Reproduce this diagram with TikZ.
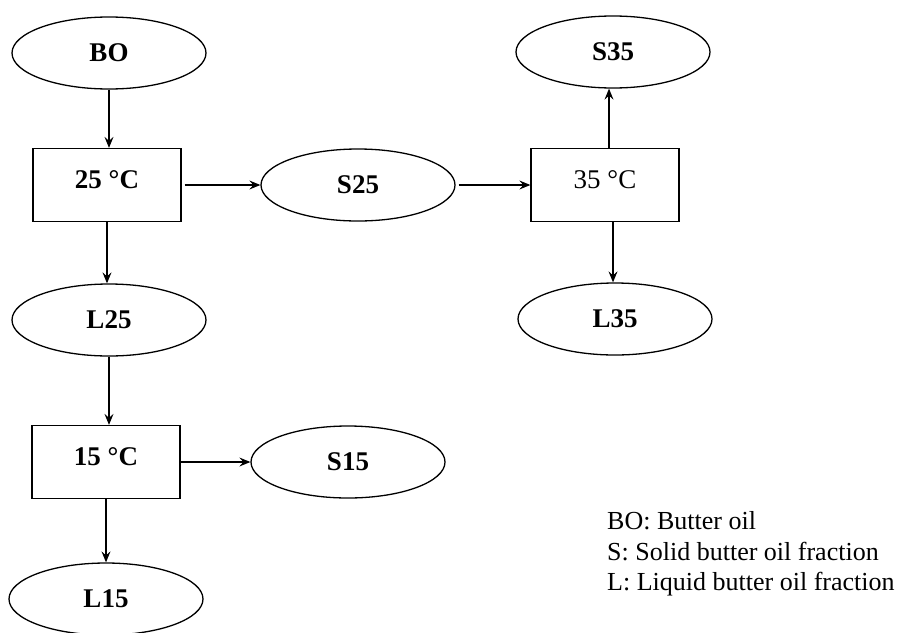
\documentclass[tikz,border=0pt]{standalone}
\usepackage{fontspec}
\setmainfont{Liberation Serif}
\usetikzlibrary{arrows.meta,shapes.geometric}
\begin{document}
\begin{tikzpicture}[x=1pt,y=-1pt,
  fr/.style={draw, ellipse, line width=1.3pt, minimum width=194pt, minimum height=72pt, inner sep=0pt, font=\fontsize{27}{30}\selectfont\bfseries},
  tbox/.style={draw, rectangle, line width=1.3pt, minimum width=148pt, minimum height=73pt, inner sep=0pt, text height=18pt, text depth=12pt, font=\fontsize{27}{30}\selectfont\bfseries},
  arr/.style={-{Stealth[length=11pt,width=9pt,inset=4pt]}, line width=1.1pt},
  legtxt/.style={anchor=base west, inner sep=0pt, font=\fontsize{26}{30.5}\selectfont}]
\useasboundingbox (0,0) rectangle (901,632);
\clip (0,0) rectangle (901,632);
\node[fr] (BO) at (109,53) {BO};
\node[tbox] (T25) at (107,185) {25 °C};
\node[fr] (S25) at (358,185) {S25};
\node[tbox, font=\fontsize{27}{30}\selectfont] (T35) at (605,185) {35 °C};
\node[fr] (S35) at (613,52) {S35};
\node[fr] (L35) at (615,319) {L35};
\node[fr] (L25) at (109,320) {L25};
\node[tbox] (T15) at (106,462) {15 °C};
\node[fr] (S15) at (348,462) {S15};
\node[fr] (L15) at (106,599) {L15};
\draw[arr] (BO.south) -- (BO.south |- T25.north);
\draw[arr] ([xshift=3pt]T25.east) -- (S25.west);
\draw[arr] ([xshift=3pt]S25.east) -- (T35.west);
\draw[arr] ([xshift=4pt]T35.north) -- ([xshift=4pt]T35.north |- S35.south);
\draw[arr] ([xshift=8pt]T35.south) -- ([xshift=8pt]T35.south |- L35.north);
\draw[arr] (T25.south) -- (T25.south |- L25.north);
\draw[arr] (L25.south) -- (L25.south |- T15.north);
\draw[arr] (T15.east) -- (S15.west);
\draw[arr] (T15.south) -- (T15.south |- L15.north);
\node[legtxt] (leg1) at (607,529) {BO: Butter oil};
\node[legtxt] (leg2) at (607,560) {S: Solid butter oil fraction};
\node[legtxt] (leg3) at (607,590) {L: Liquid butter oil fraction};
\end{tikzpicture}
\end{document}
